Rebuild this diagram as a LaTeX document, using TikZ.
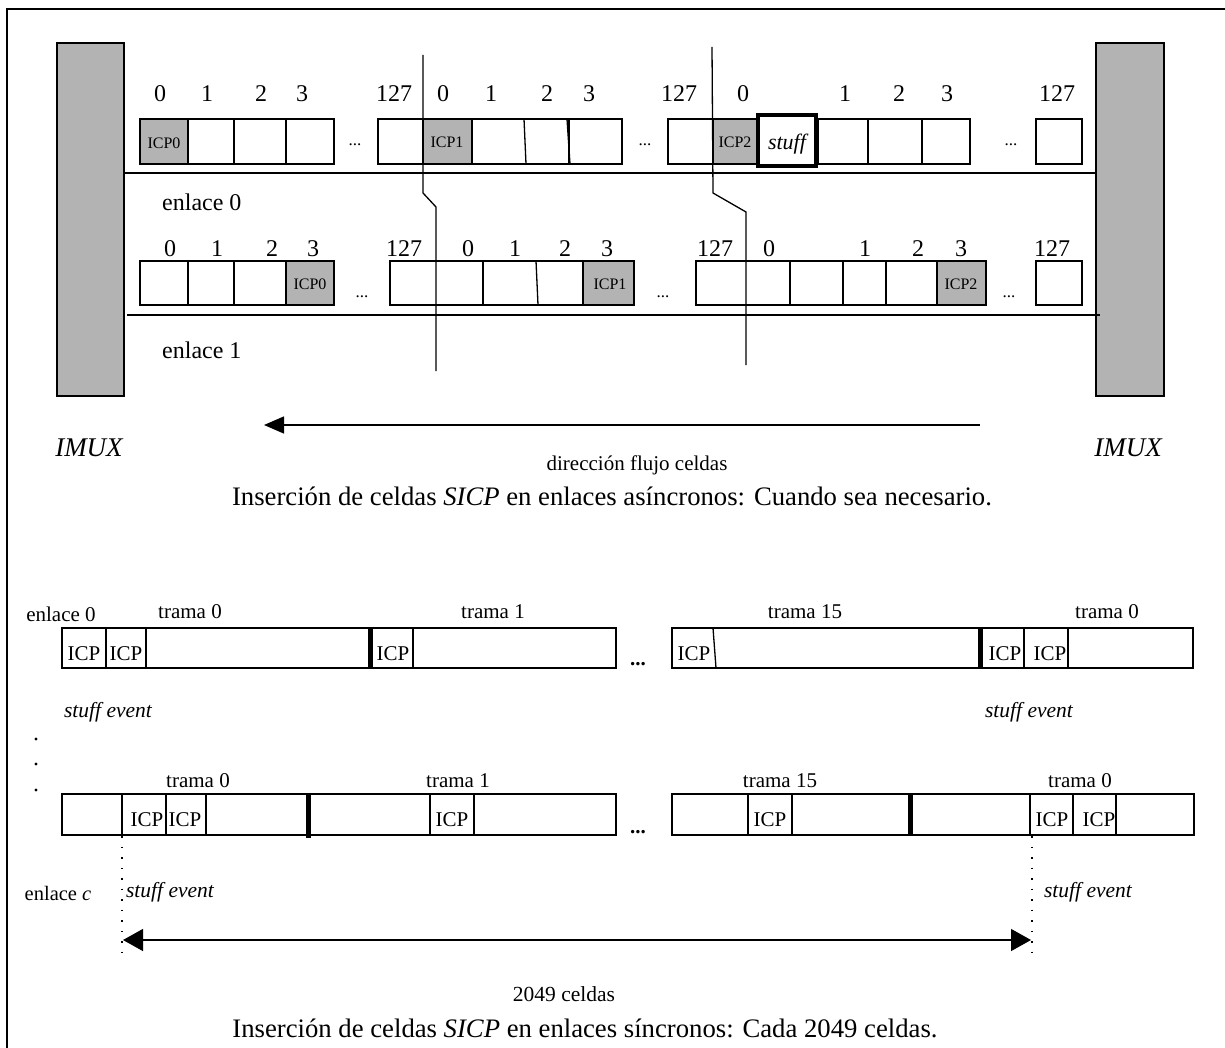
\documentclass[tikz,border=0pt]{standalone}
\usepackage{fontspec}
\setmainfont{Liberation Serif}
\usetikzlibrary{arrows.meta}
\definecolor{icpgray}{RGB}{179,179,179}
\newcommand{\fsz}[1]{\fontsize{#1}{#1}\selectfont}
\begin{document}
\begin{tikzpicture}[x=1pt,y=-1pt,
  cellbox/.style={draw=black, line width=1.3pt},
  graycell/.style={draw=black, line width=1.3pt, fill=icpgray},
  bar/.style={draw=black, line width=1.3pt, fill=icpgray},
  thin/.style={draw=black, line width=1.3pt},
  thickbar/.style={fill=black},
  lbl/.style={inner sep=0pt, anchor=base, font=\fsz{24}},
  smicp/.style={inner sep=0pt, anchor=base, font=\fsz{16}},
  dotsS/.style={inner sep=0pt, anchor=base, font=\fsz{17}},
  bigicp/.style={inner sep=0pt, anchor=base, font=\fsz{21}},
  trama/.style={inner sep=0pt, anchor=base, font=\fsz{21}},
  evt/.style={inner sep=0pt, anchor=base, font=\fsz{21.5}\itshape},
  capt/.style={inner sep=0pt, anchor=base, font=\fsz{26.7}},
  cutline/.style={draw=black, line width=1.3pt},
  dotline/.style={draw=black, line width=1.5pt, dash pattern=on 1.5pt off 9pt}
]
\useasboundingbox (0,0) rectangle (1225,1048);
% frame
\draw[line width=1.3pt] (7,1060) -- (7,9) -- (1240,9);

% IMUX bars
\draw[bar] (57,43) rectangle (124,396);
\draw[bar] (1096,43) rectangle (1164,396);

% link lines
\draw[thin] (124,173) -- (1096,173);
\draw[thin] (127,315) -- (1100,315);

% ---------- row 1 (enlace 0) ----------
\draw[graycell] (140,119) rectangle (188,164);
\draw[cellbox] (188,119) rectangle (234,164);
\draw[cellbox] (234,119) rectangle (286,164);
\draw[cellbox] (286,119) rectangle (334,164);
\draw[cellbox] (378,119) rectangle (423,164);
\draw[graycell] (423,119) rectangle (472,164);
\draw[cellbox] (472,119) -- (569,119) -- (569,164) -- (472,164);
\draw[cellbox] (524,119) -- (526,164);
\draw[cellbox] (567,119) -- (570,164);
\draw[cellbox] (569,119) rectangle (622,164);
\draw[cellbox] (668,119) rectangle (713,164);
\draw[graycell] (713,119) rectangle (757,164);
\draw[cellbox] (818,119) rectangle (868,164);
\draw[cellbox] (868,119) rectangle (922,164);
\draw[cellbox] (922,119) rectangle (970,164);
\draw[cellbox] (1036,119) rectangle (1082,164);
\draw[draw=black, line width=4pt, fill=white] (758,115) rectangle (816,166);

\node[smicp] (t0) at (164,149) {ICP0};
\node[smicp] (t1) at (447,148) {ICP1};
\node[smicp] (t2) at (735,148) {ICP2};
\node[inner sep=0pt, anchor=base, font=\fsz{22}\itshape] (stf) at (787,150) {stuff};

\node[lbl] (r1a) at (160,102) {0};
\node[lbl] (r1b) at (207,102) {1};
\node[lbl] (r1c) at (261,102) {2};
\node[lbl] (r1d) at (302,102) {3};
\node[lbl] (r1e) at (394,102) {127};
\node[lbl] (r1f) at (443,102) {0};
\node[lbl] (r1g) at (491,102) {1};
\node[lbl] (r1h) at (547,102) {2};
\node[lbl] (r1i) at (589,102) {3};
\node[lbl] (r1j) at (679,102) {127};
\node[lbl] (r1k) at (743,102) {0};
\node[lbl] (r1l) at (845,102) {1};
\node[lbl] (r1m) at (899,102) {2};
\node[lbl] (r1n) at (947,102) {3};
\node[lbl] (r1o) at (1057,102) {127};

\node[dotsS] (d1a) at (355,146) {...};
\node[dotsS] (d1b) at (645,146) {...};
\node[dotsS] (d1c) at (1011,146) {...};

\node[lbl, anchor=base west] (en0) at (162,211) {enlace 0};

% ---------- row 2 (enlace 1) ----------
\draw[cellbox] (140,261) rectangle (188,305);
\draw[cellbox] (188,261) rectangle (234,305);
\draw[cellbox] (234,261) rectangle (286,305);
\draw[graycell] (286,261) rectangle (334,305);
\draw[cellbox] (390,261) rectangle (483,305);
\draw[cellbox] (483,261) -- (583,261) -- (583,305) -- (483,305);
\draw[cellbox] (536,261) -- (538,305);
\draw[graycell, line width=1.8pt] (583,261) rectangle (634,305);
\draw[cellbox] (696,261) rectangle (790,305);
\draw[cellbox] (790,261) rectangle (843,305);
\draw[cellbox] (843,261) rectangle (886,305);
\draw[cellbox] (886,261) rectangle (937,305);
\draw[graycell] (937,261) rectangle (986,305);
\draw[cellbox] (1036,261) rectangle (1082,305);

\node[smicp] (u0) at (310,290) {ICP0};
\node[smicp] (u1) at (610,290) {ICP1};
\node[smicp] (u2) at (961,290) {ICP2};

\node[lbl] (r2a) at (170,257) {0};
\node[lbl] (r2b) at (217,257) {1};
\node[lbl] (r2c) at (272,257) {2};
\node[lbl] (r2d) at (313,257) {3};
\node[lbl] (r2e) at (404,257) {127};
\node[lbl] (r2f) at (468,257) {0};
\node[lbl] (r2g) at (515,257) {1};
\node[lbl] (r2h) at (565,257) {2};
\node[lbl] (r2i) at (607,257) {3};
\node[lbl] (r2j) at (715,257) {127};
\node[lbl] (r2k) at (769,257) {0};
\node[lbl] (r2l) at (865,257) {1};
\node[lbl] (r2m) at (918,257) {2};
\node[lbl] (r2n) at (961,257) {3};
\node[lbl] (r2o) at (1052,257) {127};

\node[dotsS] (d2a) at (362,298) {...};
\node[dotsS] (d2b) at (663,298) {...};
\node[dotsS] (d2c) at (1009,298) {...};

\node[lbl, anchor=base west] (en1) at (162,358) {enlace 1};

% cut lines
\draw[cutline] (423,55) -- (423,193) -- (436,207) -- (436,371);
\draw[cutline] (712,47) -- (713,193) -- (746,212) -- (746,365);

% flow arrow
\coordinate (fa) at (980,425);
\coordinate (fb) at (264,425);
\draw[line width=1.3pt, -{Triangle[length=20pt,width=17pt]}] (fa) -- (fb);

\node[inner sep=0pt, anchor=base, font=\fsz{27}\itshape] (imuxL) at (89,456) {IMUX};
\node[inner sep=0pt, anchor=base, font=\fsz{27}\itshape] (imuxR) at (1128,456) {IMUX};
\node[inner sep=0pt, anchor=base, font=\fsz{21}] (dir) at (637,470) {dirección flujo celdas};
\node[capt] (cap1) at (612,505) {Inserción de celdas \textit{SICP} en enlaces asíncronos: Cuando sea necesario.};

% ---------- bottom: row A (enlace 0) ----------
\draw[cellbox] (62,628) rectangle (616,668);
\draw[cellbox] (106,628) -- (106,668);
\draw[cellbox] (146,628) -- (146,668);
\fill[thickbar] (367.5,627) rectangle (372.5,669);
\draw[cellbox] (413,628) -- (413,668);
\draw[cellbox] (672,628) rectangle (1193,668);
\draw[cellbox] (713,628) -- (716,668);
\fill[thickbar] (977.5,627) rectangle (982.5,669);
\draw[cellbox] (1024,628) -- (1024,668);
\draw[cellbox] (1068,628) -- (1068,668);

\node[bigicp] (a1) at (84,660) {ICP};
\node[bigicp] (a2) at (126,660) {ICP};
\node[bigicp] (a3) at (393,660) {ICP};
\node[bigicp] (a4) at (694,660) {ICP};
\node[bigicp] (a5) at (1005,660) {ICP};
\node[bigicp] (a6) at (1050,660) {ICP};

\node[trama] (eb0) at (61,621) {enlace 0};
\node[trama] (ta0) at (190,618) {trama 0};
\node[trama] (ta1) at (493,618) {trama 1};
\node[trama] (ta15) at (805,618) {trama 15};
\node[trama] (ta0b) at (1107,618) {trama 0};
\node[inner sep=0pt, anchor=base, font=\fsz{21}\bfseries] (ea) at (638,665) {...};

\node[evt] (se1) at (108,717) {stuff event};
\node[evt] (se2) at (1029,717) {stuff event};

\fill (36,739) circle (1.6);
\fill (36,764) circle (1.6);
\fill (36,790) circle (1.6);

% ---------- bottom: row B (enlace c) ----------
\draw[cellbox] (62,794) rectangle (616,835);
\draw[cellbox] (122,794) -- (122,835);
\draw[cellbox] (166,794) -- (166,835);
\draw[cellbox] (206,794) -- (206,835);
\fill[thickbar] (305.5,793) rectangle (310.5,838);
\draw[cellbox] (430,794) -- (430,835);
\draw[cellbox] (474,794) -- (474,835);
\draw[cellbox] (672,794) rectangle (1194,835);
\draw[cellbox] (748,794) -- (748,835);
\draw[cellbox] (792,794) -- (792,835);
\fill[thickbar] (907.5,793) rectangle (912.5,836);
\draw[cellbox] (1030,794) -- (1030,835);
\draw[cellbox] (1073,794) -- (1073,835);
\draw[cellbox] (1116,794) -- (1116,835);

\node[bigicp] (b1) at (147,826) {ICP};
\node[bigicp] (b2) at (185,826) {ICP};
\node[bigicp] (b3) at (452,826) {ICP};
\node[bigicp] (b4) at (770,826) {ICP};
\node[bigicp] (b5) at (1052,826) {ICP};
\node[bigicp] (b6) at (1099,826) {ICP};

\node[trama] (tb0) at (198,787) {trama 0};
\node[trama] (tb1) at (458,787) {trama 1};
\node[trama] (tb15) at (780,787) {trama 15};
\node[trama] (tb0b) at (1080,787) {trama 0};
\node[inner sep=0pt, anchor=base, font=\fsz{21}\bfseries] (eb) at (638,833) {...};

% dotted markers and span arrow
\coordinate (m1a) at (122,836);
\coordinate (m1b) at (122,952);
\coordinate (m2a) at (1032,836);
\coordinate (m2b) at (1032,952);
\draw[dotline] (m1a) -- (m1b);
\draw[dotline] (m2a) -- (m2b);

\node[inner sep=0pt, anchor=base, font=\fsz{20.5}] (enc) at (58,900) {enlace \textit{c}};
\node[evt] (se3) at (170,897) {stuff event};
\node[evt] (se4) at (1088,897) {stuff event};

\coordinate (sa) at (123,940);
\coordinate (sb) at (1031,940);
\draw[line width=1.3pt, {Triangle[length=20pt,width=22pt]}-{Triangle[length=20pt,width=22pt]}] (sa) -- (sb);

\node[inner sep=0pt, anchor=base, font=\fsz{21.5}] (cnt) at (564,1001) {2049 celdas};
\node[capt] (cap2) at (585,1037) {Inserción de celdas \textit{SICP} en enlaces síncronos: Cada 2049 celdas.};
\end{tikzpicture}
\end{document}
